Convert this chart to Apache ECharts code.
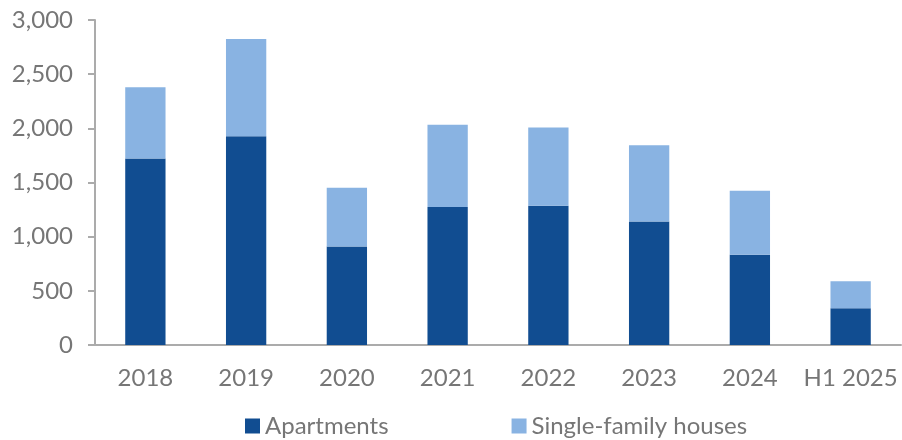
<!DOCTYPE html>
<html>
<head>
<meta charset="utf-8">
<script src="https://cdn.jsdelivr.net/npm/echarts@6/dist/echarts.min.js"></script>
<style>
  html, body { margin: 0; padding: 0; background: #fff; }
  #chart { width: 902px; height: 440px; }
</style>
</head>
<body>
<div id="chart"></div>
<script>
const years = ['2018', '2019', '2020', '2021', '2022', '2023', '2024', 'H1 2025']
const apartments = [1721, 1927, 909, 1274, 1286, 1141, 833, 339]
const singleFamily = [659, 897, 543, 758, 721, 703, 592, 250]
const yTicks = [0, 500, 1000, 1500, 2000, 2500, 3000]

const labelColor = '#767676'
const font = 'Lato, "Liberation Sans", sans-serif'

const chart = echarts.init(document.getElementById('chart'))

const option = {
	animation: false,
	textStyle: { fontFamily: font },
	grid: { left: 95, right: 1, top: 20, bottom: 95, containLabel: false },
	legend: {
		top: 414,
		left: 245,
		padding: 0,
		itemWidth: 15,
		itemHeight: 15,
		itemGap: 123,
		icon: 'rect',
		textStyle: { fontSize: 24, color: labelColor, fontFamily: font },
		data: ['Apartments', 'Single-family houses']
	},
	xAxis: {
		type: 'category',
		data: years,
		axisLine: { lineStyle: { color: '#ababab', width: 2 } },
		axisTick: { show: false },
		axisLabel: { fontSize: 24, color: labelColor, margin: 21, interval: 0, fontFamily: font }
	},
	yAxis: {
		type: 'value',
		min: yTicks[0],
		max: yTicks[yTicks.length - 1],
		interval: 500,
		splitLine: { show: false },
		axisLine: { show: true, lineStyle: { color: '#ababab', width: 2 } },
		axisTick: { show: true, length: 7, lineStyle: { color: '#ababab', width: 2 } },
		axisLabel: {
			fontSize: 24,
			color: labelColor,
			margin: 22,
			fontFamily: font,
			formatter: v => v.toLocaleString('en-US')
		}
	},
	series: [
		{
			name: 'Apartments',
			type: 'bar',
			stack: 'total',
			barWidth: '40%',
			itemStyle: { color: '#114d91' },
			data: apartments
		},
		{
			name: 'Single-family houses',
			type: 'bar',
			stack: 'total',
			barWidth: '40%',
			itemStyle: { color: '#89b3e2' },
			data: singleFamily
		}
	]
}

chart.setOption(option)
</script>
</body>
</html>
